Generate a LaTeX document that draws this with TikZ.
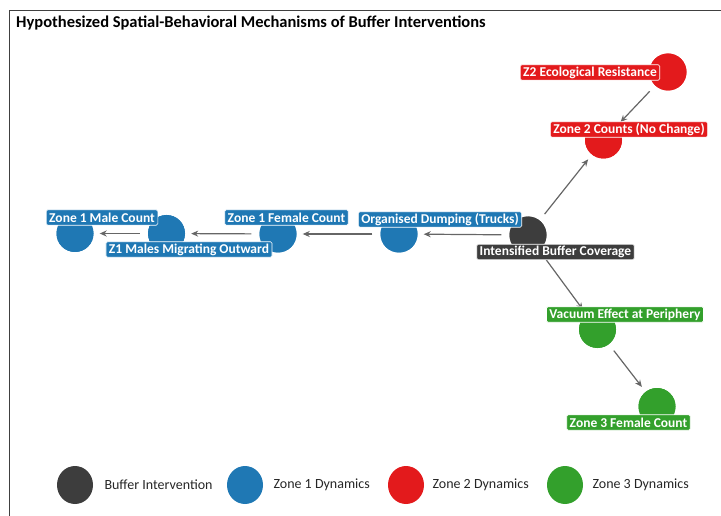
\documentclass[tikz,border=0pt]{standalone}
\usepackage{fontspec}
\setmainfont{Carlito}
\usetikzlibrary{arrows.meta,shapes.geometric}
\definecolor{bufcol}{HTML}{3D3D3D}
\definecolor{zoneone}{HTML}{1F78B4}
\definecolor{zonetwo}{HTML}{E31A1C}
\definecolor{zonethree}{HTML}{33A02C}
\definecolor{linkgray}{HTML}{666666}
\tikzset{
  dot/.style={circle, minimum size=37pt, inner sep=0pt, draw=none, fill=#1},
  tag/.style={rectangle, rounded corners=1.5pt, fill=#1, draw=white, line width=0.6pt,
    text=white, font=\fontsize{13.5}{14}\selectfont\bfseries, inner xsep=3pt, inner ysep=0.5pt,
    minimum height=15.5pt},
  link/.style={draw=linkgray, line width=1.2pt, -{Stealth[length=7pt,width=6pt]},
    shorten <=8pt, shorten >=6pt},
  keydot/.style={ellipse, minimum width=36pt, minimum height=38pt, inner sep=0pt, fill=#1},
  keytext/.style={anchor=west, font=\fontsize{14}{16}\selectfont, text=black!85},
}
\begin{document}
\begin{tikzpicture}[x=1pt,y=-1pt]
\useasboundingbox (0,0) rectangle (721,516);
% frame
\draw[black!75, line width=1pt] (9,516) -- (9,10.5) -- (721,10.5);
\node[anchor=base west, inner sep=0pt, font=\fontsize{16.5}{18}\selectfont\bfseries] (title) at (16,28)
  {Hypothesized Spatial-Behavioral Mechanisms of Buffer Interventions};

% circles
\node[dot=bufcol]    (buf)  at (528,235) {};
\node[dot=zoneone]   (dump) at (399,234) {};
\node[dot=zoneone]   (zff)  at (278,234) {};
\node[dot=zoneone]   (zmm)  at (166.5,233.5) {};
\node[dot=zoneone]   (zmc)  at (75,233.5) {};
\node[dot=zonetwo]   (eco)  at (668,72) {};
\node[dot=zonetwo]   (ztc)  at (603.5,140) {};
\node[dot=zonethree] (vac)  at (597.5,329.5) {};
\node[dot=zonethree] (zth)  at (657,406.5) {};

% connectors
\draw[link] (buf) -- (dump);
\draw[link] (dump) -- (zff);
\draw[link] (zff) -- (zmm);
\draw[link] (zmm) -- (zmc);
\draw[link] (buf) -- (ztc);
\draw[link] (eco) -- (ztc);
\draw[link] (buf) -- (vac);
\draw[link] (vac) -- (zth);

% redraw circles above connectors
\foreach \n/\c in {buf/bufcol,dump/zoneone,zff/zoneone,zmm/zoneone,zmc/zoneone,eco/zonetwo,ztc/zonetwo,vac/zonethree,zth/zonethree}
  \fill[\c] (\n) circle (18.5pt);

% labels
\node[tag=bufcol]    (lbuf)  at (555.5,252) {Intensified Buffer Coverage};
\node[tag=zoneone]   (ldump) at (440,219.5) {Organised Dumping (Trucks)};
\node[tag=zoneone]   (lzff)  at (286.5,217.5) {Zone 1 Female Count};
\node[tag=zoneone]   (lzmm)  at (189,249.5) {Z1 Males Migrating Outward};
\node[tag=zoneone]   (lzmc)  at (102,217.5) {Zone 1 Male Count};
\node[tag=zonetwo]   (leco)  at (590,72.5) {Z2 Ecological Resistance};
\node[tag=zonetwo]   (lztc)  at (629,129.5) {Zone 2 Counts (No Change)};
\node[tag=zonethree] (lvac)  at (625,314.5) {Vacuum Effect at Periphery};
\node[tag=zonethree] (lzth)  at (628.5,422.5) {Zone 3 Female Count};

% legend
\node[keydot=bufcol]    (k1) at (75,485) {};
\node[keytext] (t1) at (101,485) {Buffer Intervention};
\node[keydot=zoneone]   (k2) at (245,485) {};
\node[keytext] (t2) at (270,485) {Zone 1 Dynamics};
\node[keydot=zonetwo]   (k3) at (406,485) {};
\node[keytext] (t3) at (429,485) {Zone 2 Dynamics};
\node[keydot=zonethree] (k4) at (565,485) {};
\node[keytext] (t4) at (589,485) {Zone 3 Dynamics};
\end{tikzpicture}
\end{document}
